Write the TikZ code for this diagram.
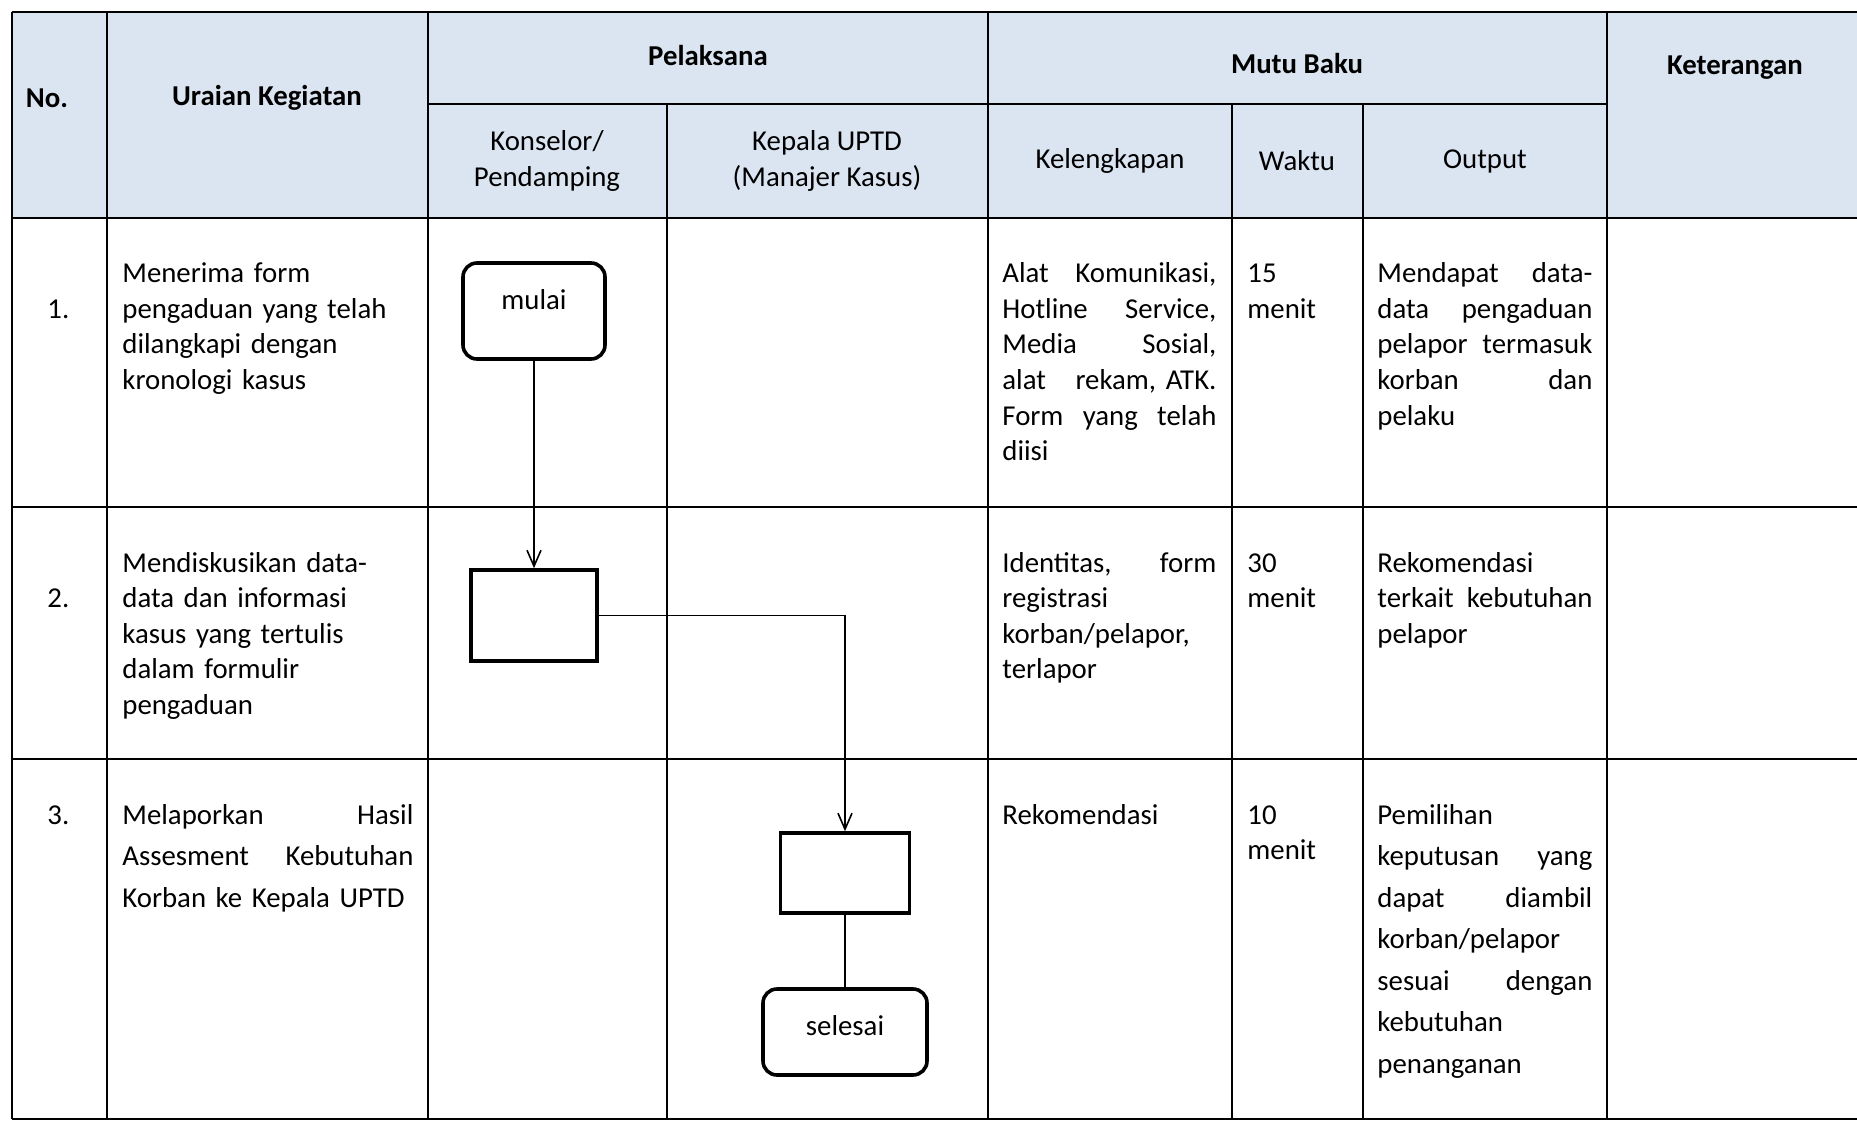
\documentclass[tikz,border=0pt]{standalone}
\usepackage{fontspec}
\setmainfont{Carlito}
\usetikzlibrary{arrows.meta}

\definecolor{headblue}{RGB}{219,229,241}
\newcommand{\bodyfont}{\fontsize{14.4}{17.75}\selectfont}
\newcommand{\wideline}{\fontsize{14.4}{20.75}\selectfont}

\tikzset{
  grid line/.style={line width=0.8pt},
  every cell/.style={anchor=base west, inner sep=0pt, align=left, font=\bodyfont},
  head/.style={inner sep=0pt, align=center, font=\bodyfont\bfseries},
  subhead/.style={inner sep=0pt, align=center, font=\bodyfont},
  terminal/.style={draw, line width=1.8pt, rounded corners=7pt, minimum width=71pt, minimum height=48pt, font=\bodyfont},
  process/.style={draw, line width=1.8pt, minimum width=63pt, minimum height=45.5pt},
  flow/.style={line width=0.8pt}
}

\begin{document}
\begin{tikzpicture}[x=0.5pt, y=-0.5pt, >={Straight Barb[length=8pt,width=7pt]}]

	\useasboundingbox (0,0) rectangle (1857,1123);

	% header background
	\fill [headblue] (12,12) rectangle (1857,218);

	% table lines
	\foreach \y in {12,218,507,759,1119}
		\draw [grid line] (12,\y) -- (1857,\y);
	\draw [grid line] (428,104) -- (1607,104);
	\foreach \x in {12,107,428,988,1607}
		\draw [grid line] (\x,12) -- (\x,1119);
	\foreach \x in {667,1232,1363}
		\draw [grid line] (\x,104) -- (\x,1119);

	% headings
	\node [head] (h-no) at (47,98) {No.};
	\node [head] (h-uraian) at (267,98) {Uraian Kegiatan};
	\node [head] (h-pelaksana) at (708,56) {Pelaksana};
	\node [head] (h-mutu) at (1297,64) {Mutu Baku};
	\node [head] (h-ket) at (1735,68) {Keterangan};

	% sub headings
	\node [subhead] (h-konselor) at (547,161) {Konselor/\\Pendamping};
	\node [subhead] (h-kepala) at (827,161) {Kepala UPTD\\(Manajer Kasus)};
	\node [subhead] (h-lengkap) at (1110,161) {Kelengkapan};
	\node [subhead] (h-waktu) at (1297,161) {Waktu};
	\node [subhead] (h-output) at (1485,161) {Output};

	% row numbers
	\foreach \n/\y in {1/318.5, 2/607.5, 3/824}
		\node [every cell] (no-\n) at (47,\y) {\n.};

	% uraian kegiatan
	\node [every cell, text width=145.5pt] (uraian-1) at (122,283)
		{Menerima form\\pengaduan yang telah\\dilangkapi dengan\\kronologi kasus};
	\node [every cell, text width=145.5pt] (uraian-2) at (122,572)
		{Mendiskusikan data-\\data dan informasi\\kasus yang tertulis\\dalam formulir\\pengaduan};
	\node [every cell, text width=145.5pt, font=\wideline] (uraian-3) at (122,824)
		{Melaporkan\hfill Hasil\\Assesment\hfill Kebutuhan\\Korban ke Kepala UPTD};

	% kelengkapan
	\node [every cell, text width=107pt] (lengkap-1) at (1002,283)
		{Alat\hfill Komunikasi,\\Hotline\hfill Service,\\Media\hfill Sosial,\\alat\hfill rekam, ATK.\\Form\hfill yang\hfill telah\\diisi};
	\node [every cell, text width=107pt] (lengkap-2) at (1002,572)
		{Identitas,\hfill form\\registrasi\\korban/pelapor,\\terlapor};
	\node [every cell, text width=107pt] (lengkap-3) at (1002,824) {Rekomendasi};

	% waktu
	\foreach \m/\y [count=\i] in {15/283, 30/572, 10/824}
		\node [every cell, text width=50pt] (waktu-\i) at (1247,\y) {\m\\menit};

	% output
	\node [every cell, text width=107.5pt] (output-1) at (1377,283)
		{Mendapat\hfill data-\\data\hfill pengaduan\\pelapor\hfill termasuk\\korban\hfill dan\\pelaku};
	\node [every cell, text width=107.5pt] (output-2) at (1377,572)
		{Rekomendasi\\terkait\hfill kebutuhan\\pelapor};
	\node [every cell, text width=107.5pt, font=\wideline] (output-3) at (1377,824)
		{Pemilihan\\keputusan\hfill yang\\dapat\hfill diambil\\korban/pelapor\\sesuai\hfill dengan\\kebutuhan\\penanganan};

	% flow shapes
	\node [terminal, text depth=11.5pt] (mulai) at (534,311) {mulai};
	\node [process] (langkah-2) at (534,615.5) {};
	\node [process, minimum width=64.5pt, minimum height=40pt] (langkah-3) at (845,873) {};
	\node [terminal, minimum width=82pt, minimum height=43pt, text depth=7pt] (selesai) at (845,1032) {selesai};

	% connectors
	\draw [flow, ->] (mulai) -- (langkah-2);
	\draw [flow, ->] (langkah-2.east) -| (langkah-3.north);
	\draw [flow] (langkah-3) -- (selesai);

\end{tikzpicture}
\end{document}
